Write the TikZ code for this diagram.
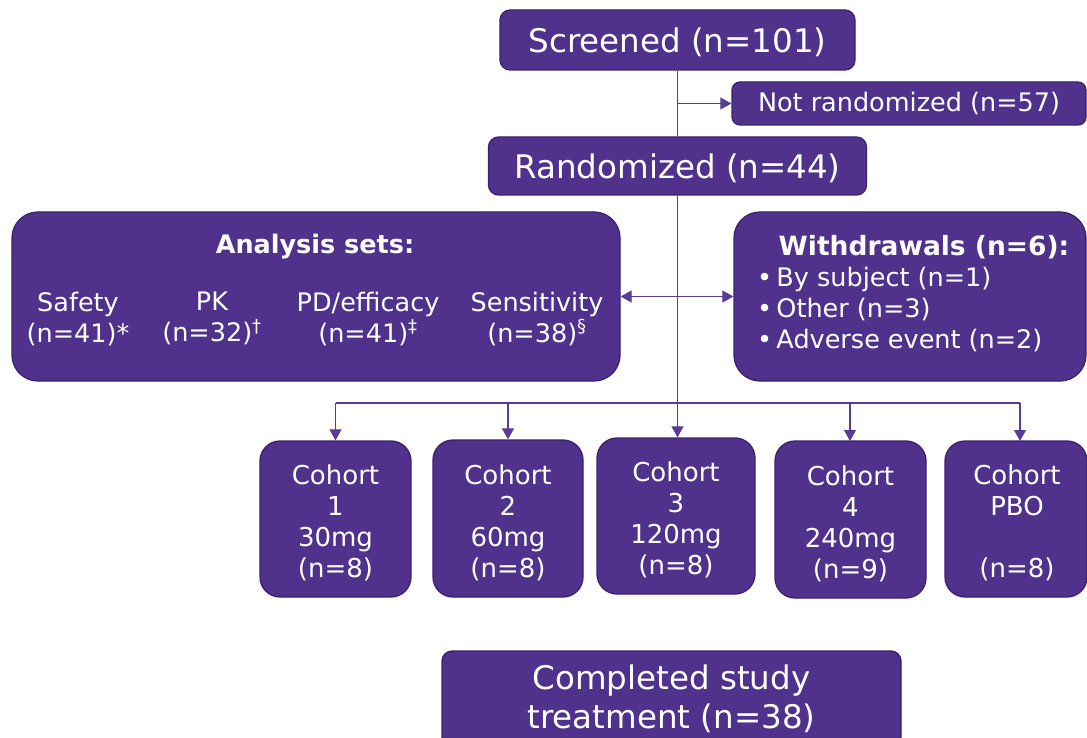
\documentclass[tikz,border=0pt]{standalone}
\usepackage{fontspec}
\setmainfont{DejaVu Sans}
\usetikzlibrary{arrows.meta}
\definecolor{pur}{HTML}{50328C}
\definecolor{purd}{HTML}{3A2270}
\definecolor{linec}{HTML}{5A3C96}
\begin{document}
\begin{tikzpicture}[x=1pt,y=-1pt,
  box/.style={draw=purd, line width=1.3pt, fill=pur, text=white, rounded corners=#1, inner sep=0pt, align=center},
  box/.default=10pt,
  big/.style={font=\fontsize{32.5}{39}\selectfont},
  med/.style={font=\fontsize{25.5}{31}\selectfont},
  coh/.style={font=\fontsize{26}{31}\selectfont},
  txt/.style={text=white, inner sep=0pt, align=center},
  conn/.style={draw=linec, line width=1.2pt},
  arr/.style={conn, -{Triangle[width=12pt,length=11pt]}},
  arrb/.style={conn, {Triangle[width=12pt,length=11pt]}-{Triangle[width=12pt,length=11pt]}}]
\useasboundingbox (0,0) rectangle (1087,738);

% top boxes
\node[box, minimum width=355pt, minimum height=60pt] (scr) at (677.5,40) {};
\node[txt, big] (scrt) at (677.5,42) {Screened (n=101)};
\node[box=8pt, med, minimum width=354pt, minimum height=43pt] (nr) at (909,103.5) {Not randomized (n=57)};
\node[box, minimum width=378pt, minimum height=58pt] (rnd) at (677.5,166) {};
\node[txt, big] (rndt) at (677.5,168) {Randomized (n=44)};

% analysis sets
\node[box=26pt, minimum width=608pt, minimum height=169pt] (an) at (316,296.5) {};
\node[txt, font=\fontsize{25.5}{31}\selectfont\bfseries] (antitle) at (315,247) {Analysis sets:};
\node[txt, med] (saf) at (78,318.5) {Safety\\(n=41)*};
\node[txt, med] (pk) at (212,318.5) {PK\\(n=32)\textsuperscript{†}};
\node[txt, med] (pd) at (368,318.5) {PD/efficacy\\(n=41)\textsuperscript{‡}};
\node[txt, med] (sen) at (537,318.5) {Sensitivity\\(n=38)\textsuperscript{§}};

% withdrawals
\node[box=26pt, minimum width=352pt, minimum height=169pt] (wd) at (910,296.5) {};
\node[txt, font=\fontsize{26.5}{31}\selectfont\bfseries] (wdtitle) at (924,247) {Withdrawals (n=6):};
\node[txt, med, align=left, anchor=west] (wdlist) at (757,309) {•\,By subject (n=1)\\•\,Other (n=3)\\•\,Adverse event (n=2)};

% cohorts
\node[box=20pt, minimum width=151pt, minimum height=156pt] (c1) at (335.5,519) {};
\node[box=20pt, minimum width=150pt, minimum height=157pt] (c2) at (508,518.5) {};
\node[box=20pt, minimum width=158pt, minimum height=156pt] (c3) at (676,516) {};
\node[box=20pt, minimum width=151pt, minimum height=157pt] (c4) at (850.5,519.5) {};
\node[box=20pt, minimum width=142pt, minimum height=156pt] (c5) at (1016,519) {};
\node[txt, coh] (c1t) at (335.5,523) {Cohort\\1\\30mg\\(n=8)};
\node[txt, coh] (c2t) at (508,523) {Cohort\\2\\60mg\\(n=8)};
\node[txt, coh] (c3t) at (676,520) {Cohort\\3\\120mg\\(n=8)};
\node[txt, coh] (c4t) at (850.5,523.5) {Cohort\\4\\240mg\\(n=9)};
\node[txt, coh] (c5t) at (1017,523) {Cohort\\PBO\\\mbox{}\\(n=8)};

% completed
\node[box, minimum width=459pt, minimum height=96pt] (comp) at (671.5,699) {};
\node[txt, big] (compt) at (671.5,699) {Completed study\\treatment (n=38)};

% connectors
\draw[conn] (scr.south) -- (rnd.north);
\draw[arr] (scr.south |- nr.west) -- (nr.west);
\draw[arr] (rnd.south) -- (rnd.south |- c3.north);
\draw[arrb] (an.east) -- (wd.west);
\coordinate (br) at (678,403);
\draw[conn] (c1.north |- br) -- (1020,403);
\draw[arr] (c1.north |- br) -- (c1.north);
\draw[arr] (c2.north |- br) -- (c2.north);
\draw[arr] (850,403) -- (850,441);
\draw[arr] (1020,403) -- (1020,441);
\end{tikzpicture}
\end{document}
